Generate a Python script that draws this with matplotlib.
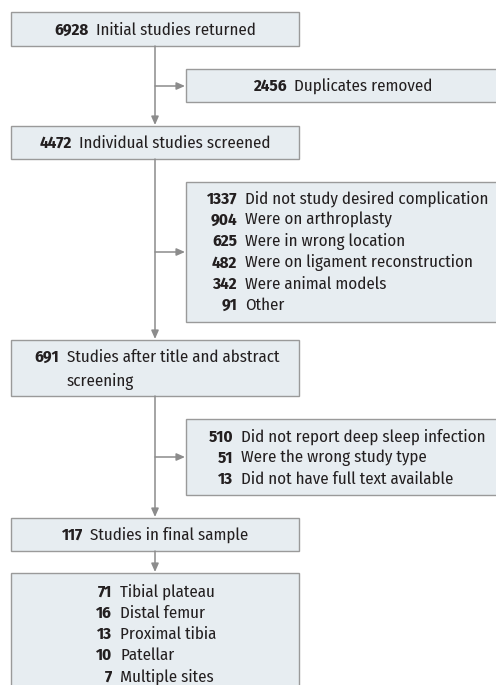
import matplotlib.pyplot as plt
from matplotlib.patches import Rectangle

# Flow counts and labels
initial_n = 6928
initial_label = 'Initial studies returned'
dup_n = 2456
dup_label = 'Duplicates removed'
screened_n = 4472
screened_label = 'Individual studies screened'

excl1_n = [1337, 904, 625, 482, 342, 91]
excl1_labels = ['Did not study desired complication', 'Were on arthroplasty',
                'Were in wrong location', 'Were on ligament reconstruction',
                'Were animal models', 'Other']

abstract_n = 691
abstract_label = ['Studies after title and abstract', 'screening']

excl2_n = [510, 51, 13]
excl2_labels = ['Did not report deep sleep infection', 'Were the wrong study type',
                'Did not have full text available']

final_n = 117
final_label = 'Studies in final sample'

site_n = [71, 16, 13, 10, 7]
site_labels = ['Tibial plateau', 'Distal femur', 'Proximal tibia', 'Patellar', 'Multiple sites']

FONT = ['Fira Sans Condensed', 'DejaVu Sans']
FS = 12.2
FILL = '#e7edf1'
EDGE = '#9a9a9a'
LINE = '#8c8c8c'
TXT = '#231f20'

fig = plt.figure(figsize=(4.96, 6.85), dpi=100)
ax = fig.add_axes([0, 0, 1, 1])
ax.set_xlim(0, 496)
ax.set_ylim(685, 0)
ax.axis('off')


def box(x0, y0, x1, y1):
    ax.add_patch(Rectangle((x0, y0), x1 - x0, y1 - y0, facecolor=FILL,
                           edgecolor=EDGE, linewidth=1.0, clip_on=False))


def num(x, y, n):
    ax.text(x, y, f'{n}', fontsize=FS, family=FONT, fontweight='bold',
            color=TXT, va='center', ha='right')


def lab(x, y, s):
    ax.text(x, y, s, fontsize=FS, family=FONT, color=TXT, va='center', ha='left')


def centered(cx, y, n, label):
    # number bold + label, centered as a pair
    t = ax.text(cx, y, f'{n}', fontsize=FS, family=FONT, fontweight='bold',
                color=TXT, va='center', ha='right')
    t2 = ax.text(cx + 7, y, label, fontsize=FS, family=FONT, color=TXT,
                 va='center', ha='left')
    fig.canvas.draw()
    r = fig.canvas.get_renderer()
    w1 = t.get_window_extent(r).width
    w2 = t2.get_window_extent(r).width + 7
    shift = (w1 - w2) / 2
    t.set_x(cx + shift)
    t2.set_x(cx + 7 + shift)


def listed(xr, y0, step, nums, labels):
    for i, (n, s) in enumerate(zip(nums, labels)):
        num(xr, y0 + i * step, n)
        lab(xr + 8, y0 + i * step, s)


def arrow(x0, y0, x1, y1):
    ax.annotate('', xy=(x1, y1), xytext=(x0, y0),
                arrowprops=dict(arrowstyle='-|>,head_length=0.5,head_width=0.22',
                                color=LINE, lw=1.1, shrinkA=0, shrinkB=0))


CX = 155
# boxes
box(11, 12, 299, 46)
box(186, 69, 500, 102)
box(11, 126, 299, 159)
box(186, 182, 500, 322)
box(11, 340, 299, 396)
box(186, 419, 500, 495)
box(11, 518, 299, 551)
box(11, 573, 299, 700)

# arrows
arrow(CX, 46, CX, 125)
arrow(CX, 86, 185, 86)
arrow(CX, 159, CX, 339)
arrow(CX, 252, 185, 252)
arrow(CX, 396, CX, 517)
arrow(CX, 457, 185, 457)
arrow(CX, 551, CX, 572)

centered(CX, 30, initial_n, initial_label)
centered(343, 86, dup_n, dup_label)
centered(CX, 143, screened_n, screened_label)

listed(237, 199, 21.3, excl1_n, excl1_labels)

num(59, 357, abstract_n)
lab(67, 357, abstract_label[0])
lab(67, 381, abstract_label[1])

listed(233, 437, 21.0, excl2_n, excl2_labels)
centered(CX, 535, final_n, final_label)
listed(112, 592, 21.2, site_n, site_labels)

fig.savefig('out.png', dpi=100)
